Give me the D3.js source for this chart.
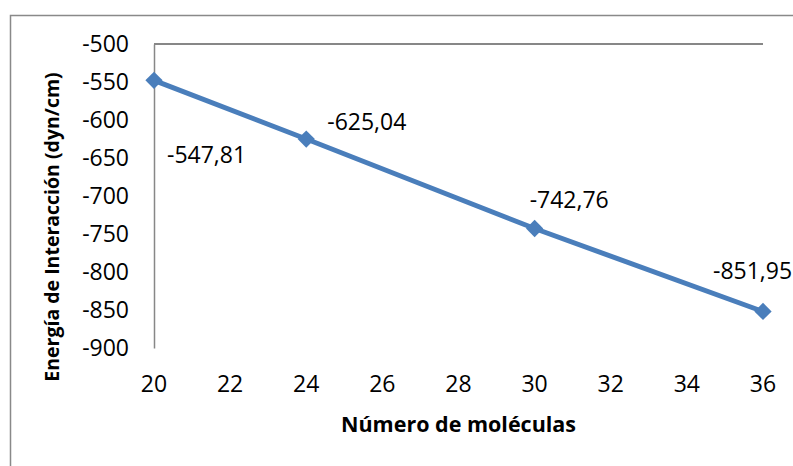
<!DOCTYPE html>
<html>
<head>
<meta charset="utf-8">
<script src="https://cdn.jsdelivr.net/npm/d3@7"></script>
<style>
  body { margin: 0; background: #fff; }
  svg { display: block; font-family: 'Open Sans', sans-serif; }
</style>
</head>
<body>
<svg></svg>
<script>
// data
const molecules = [20, 24, 30, 36];
const energy = [-547.81, -625.04, -742.76, -851.95];
const xTicks = [20, 22, 24, 26, 28, 30, 32, 34, 36];
const yTicks = [-500, -550, -600, -650, -700, -750, -800, -850, -900];

// where each value label sits relative to its point (hand placed in the original)
const labelOffsets = [[13, 83], [21, -9], [-5, -20], [-50, -32]];

const width = 793;
const height = 466;
const margin = { top: 44, right: 30, bottom: 118, left: 154 };

const svg = d3.select('svg')
  .attr('width', width)
  .attr('height', height);

// outer chart border, runs off the right and bottom edges
svg.append('rect')
  .attr('x', 10.5)
  .attr('y', 15.5)
  .attr('width', 800)
  .attr('height', 500)
  .attr('fill', 'none')
  .attr('stroke', '#898989')
  .attr('stroke-width', 1.5);

const x = d3.scaleLinear()
  .domain([20, 36])
  .range([margin.left, width - margin.right]);

const y = d3.scaleLinear()
  .domain([-900, -500])
  .range([height - margin.bottom, margin.top]);

// comma decimals and a plain hyphen for the minus, like the original
const locale = d3.formatLocale({ decimal: ',', thousands: '.', grouping: [3], currency: ['', ''], minus: '-' });
const fmtLabel = locale.format('.2f');
const fmtTick = locale.format('d');

// y axis: line + labels, no tick marks
const yAxis = svg.append('g')
  .attr('transform', `translate(${x(20)},0)`)
  .call(d3.axisLeft(y).tickValues(yTicks).tickSize(0).tickPadding(25).tickFormat(fmtTick));
yAxis.select('.domain').attr('stroke', '#878787').attr('stroke-width', 1.5);
yAxis.selectAll('text')
  .attr('font-family', "'Open Sans', sans-serif")
  .attr('font-size', 23)
  .attr('fill', '#000');

// horizontal axis line sits at the top (value -500)
svg.append('line')
  .attr('x1', x(20))
  .attr('x2', x(36))
  .attr('y1', y(-500))
  .attr('y2', y(-500))
  .attr('stroke', '#878787')
  .attr('stroke-width', 2);

// x tick labels along the bottom
svg.append('g')
  .selectAll('text')
  .data(xTicks)
  .join('text')
  .attr('x', d => x(d))
  .attr('y', 392)
  .attr('text-anchor', 'middle')
  .attr('font-size', 23)
  .text(d => d);

// axis titles
svg.append('text')
  .attr('x', (x(20) + x(36)) / 2)
  .attr('y', 432)
  .attr('text-anchor', 'middle')
  .attr('font-size', 21.5)
  .attr('font-weight', 'bold')
  .text('Número de moléculas');

svg.append('text')
  .attr('transform', 'translate(59,227) rotate(-90)')
  .attr('text-anchor', 'middle')
  .attr('font-size', 19.5)
  .attr('font-weight', 'bold')
  .text('Energía de Interacción (dyn/cm)');

const points = molecules.map((m, i) => ({ m, e: energy[i], off: labelOffsets[i] }));

svg.append('path')
  .datum(points)
  .attr('fill', 'none')
  .attr('stroke', '#4a7ebb')
  .attr('stroke-width', 5)
  .attr('d', d3.line().x(d => x(d.m)).y(d => y(d.e)));

svg.append('g')
  .selectAll('path')
  .data(points)
  .join('path')
  .attr('transform', d => `translate(${x(d.m)},${y(d.e)})`)
  .attr('d', d3.symbol(d3.symbolDiamond2, 190))
  .attr('fill', '#4a7ebb');

svg.append('g')
  .selectAll('text')
  .data(points)
  .join('text')
  .attr('x', d => x(d.m) + d.off[0])
  .attr('y', d => y(d.e) + d.off[1])
  .attr('font-size', 23)
  .text(d => fmtLabel(d.e));
</script>
</body>
</html>
